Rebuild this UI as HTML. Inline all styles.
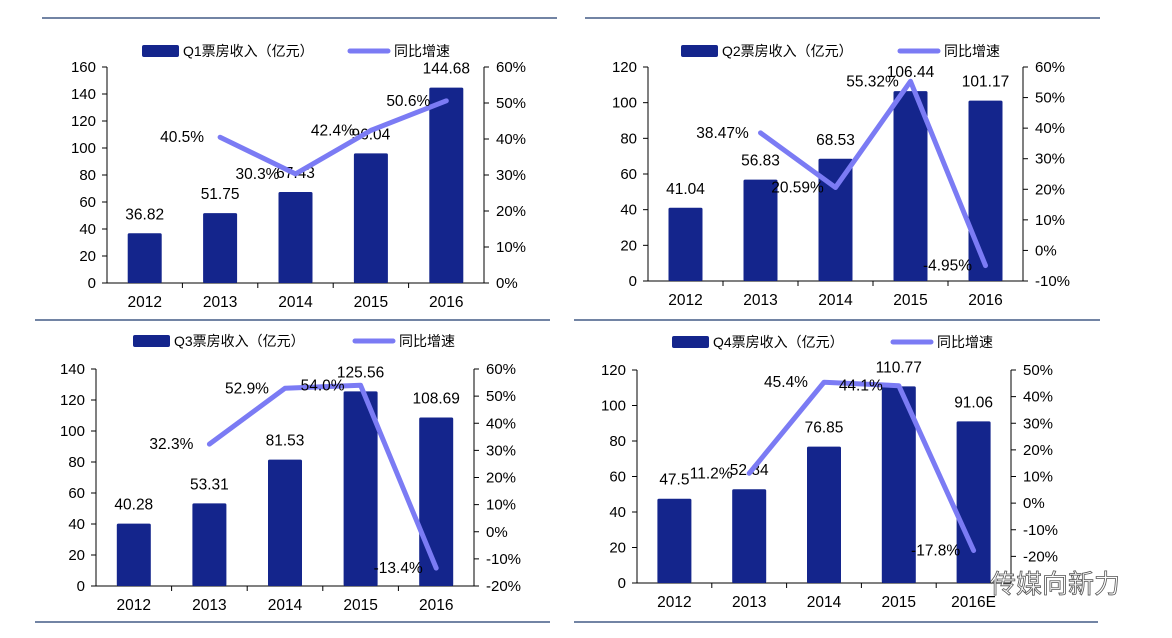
<!DOCTYPE html>
<html><head><meta charset="utf-8">
<style>
html,body{margin:0;padding:0;background:#fff;}
svg{display:block;font-family:"Liberation Sans","Noto Sans CJK SC",sans-serif;}
</style></head>
<body>
<svg id="c" width="1172" height="638" viewBox="0 0 1172 638"></svg>
<script>
const years = ["2012","2013","2014","2015","2016"];
const yearsQ4 = ["2012","2013","2014","2015","2016E"];
const q1Revenue = [36.82,51.75,67.43,96.04,144.68];
const q1Growth = [null,40.5,30.3,42.4,50.6];
const q1GrowthLabels = ["","40.5%","30.3%","42.4%","50.6%"];
const q2Revenue = [41.04,56.83,68.53,106.44,101.17];
const q2Growth = [null,38.47,20.59,55.32,-4.95];
const q2GrowthLabels = ["","38.47%","20.59%","55.32%","-4.95%"];
const q3Revenue = [40.28,53.31,81.53,125.56,108.69];
const q3Growth = [null,32.3,52.9,54.0,-13.4];
const q3GrowthLabels = ["","32.3%","52.9%","54.0%","-13.4%"];
const q4Revenue = [47.5,52.84,76.85,110.77,91.06];
const q4Growth = [null,11.2,45.4,44.1,-17.8];
const q4GrowthLabels = ["","11.2%","45.4%","44.1%","-17.8%"];
const q1LeftTicks=[0,20,40,60,80,100,120,140,160], q1RightTicks=[0,10,20,30,40,50,60];
const q2LeftTicks=[0,20,40,60,80,100,120], q2RightTicks=[-10,0,10,20,30,40,50,60];
const q3LeftTicks=[0,20,40,60,80,100,120,140], q3RightTicks=[-20,-10,0,10,20,30,40,50,60];
const q4LeftTicks=[0,20,40,60,80,100,120], q4RightTicks=[-20,-10,0,10,20,30,40,50];

const NS="http://www.w3.org/2000/svg";
const svg=document.getElementById('c');
function mk(tag,attrs,parent,text){const e=document.createElementNS(NS,tag);for(const k in attrs)e.setAttribute(k,attrs[k]);if(text!==undefined)e.textContent=text;(parent||svg).appendChild(e);return e;}

const panels=[
 {id:"q1",title:"Q1票房收入（亿元）",cats:years,rev:q1Revenue,gr:q1Growth,gl:q1GrowthLabels,lt:q1LeftTicks,rt:q1RightTicks,lmax:160,rmin:0,rmax:60,
  x0:107,x1:484,yb:283,yt:67,lineTop:{y:18,x1:42,x2:557},lineBot:null,leg:{y:51,bx:142,lx:350}},
 {id:"q2",title:"Q2票房收入（亿元）",cats:years,rev:q2Revenue,gr:q2Growth,gl:q2GrowthLabels,lt:q2LeftTicks,rt:q2RightTicks,lmax:120,rmin:-10,rmax:60,
  x0:648,x1:1023,yb:281,yt:67,lineTop:{y:18,x1:585,x2:1100},lineBot:null,leg:{y:51,bx:681,lx:900}},
 {id:"q3",title:"Q3票房收入（亿元）",cats:years,rev:q3Revenue,gr:q3Growth,gl:q3GrowthLabels,lt:q3LeftTicks,rt:q3RightTicks,lmax:140,rmin:-20,rmax:60,
  x0:96,x1:474,yb:586,yt:369,lineTop:{y:320,x1:35,x2:550},lineBot:{y:622,x1:35,x2:550},leg:{y:341,bx:133,lx:355}},
 {id:"q4",title:"Q4票房收入（亿元）",cats:yearsQ4,rev:q4Revenue,gr:q4Growth,gl:q4GrowthLabels,lt:q4LeftTicks,rt:q4RightTicks,lmax:120,rmin:-30,rmax:50,
  x0:637,x1:1011,yb:583,yt:370,lineTop:{y:320,x1:574,x2:1100},lineBot:{y:622,x1:574,x2:1098},leg:{y:342,bx:672,lx:893}}
];

panels.forEach(p=>{
  const g=mk('g',{},svg);
  
  
  const rule=mk('line',{x1:p.lineTop.x1,x2:p.lineTop.x2,y1:p.lineTop.y,y2:p.lineTop.y,stroke:'#1f3a6e','stroke-width':1.3},g);
  
  
  if(p.lineBot){const r2=mk('line',{x1:p.lineBot.x1,x2:p.lineBot.x2,y1:p.lineBot.y,y2:p.lineBot.y,stroke:'#1f3a6e','stroke-width':1.3},g);
    
    }
  const n=p.cats.length, step=(p.x1-p.x0)/n;
  const xc=i=>p.x0+step*(i+0.5);
  const yL=v=>p.yb-(v/p.lmax)*(p.yb-p.yt);
  const yR=v=>p.yb-((v-p.rmin)/(p.rmax-p.rmin))*(p.yb-p.yt);
  // axes
  mk('line',{x1:p.x0,x2:p.x0,y1:p.yt,y2:p.yb,stroke:'#000','stroke-width':1},g);
  mk('line',{x1:p.x1,x2:p.x1,y1:p.yt,y2:p.yb,stroke:'#000','stroke-width':1},g);
  mk('line',{x1:p.x0,x2:p.x1,y1:p.yb,y2:p.yb,stroke:'#000','stroke-width':1},g);
  p.lt.forEach(t=>{const y=yL(t);mk('line',{x1:p.x0-5,x2:p.x0,y1:y,y2:y,stroke:'#000'},g);
    const tx=mk('text',{x:p.x0-11,y:y+5,'text-anchor':'end','font-size':15,fill:'#000'},g,String(t));
    
    });
  p.rt.forEach(t=>{const y=yR(t);mk('line',{x1:p.x1,x2:p.x1+5,y1:y,y2:y,stroke:'#000'},g);
    const tx=mk('text',{x:p.x1+12,y:y+5,'font-size':15,fill:'#000'},g,t+'%');
    
    });
  for(let i=1;i<n;i++){mk('line',{x1:p.x0+step*i,x2:p.x0+step*i,y1:p.yb,y2:p.yb+5,stroke:'#000'},g);}
  // bars
  p.rev.forEach((v,i)=>{
    const b=mk('rect',{x:xc(i)-17,y:yL(v),width:34,height:p.yb-yL(v),fill:'#14258c',rx:1.5},g);
    
    
    const t=mk('text',{x:xc(i),y:yL(v)-14,'text-anchor':'middle','font-size':15.5,fill:'#000'},g,String(v));
    
    
    const c=mk('text',{x:xc(i),y:p.yb+24,'text-anchor':'middle','font-size':15.5,fill:'#000'},g,p.cats[i]);
    
    
  });
  // line
  const pts=[];p.gr.forEach((v,i)=>{if(v!==null)pts.push([xc(i),yR(v)]);});
  const pl=mk('polyline',{points:pts.map(q=>q.join(',')).join(' '),fill:'none',stroke:'#7b7bf4','stroke-width':5,'stroke-linejoin':'round','stroke-linecap':'round'},g);
  
  
  p.gr.forEach((v,i)=>{if(v===null)return;
    const t=mk('text',{x:xc(i)-38,y:yR(v)+5,'text-anchor':'middle','font-size':15.5,fill:'#000'},g,p.gl[i]);
    
    });
  // legend
  const lg=mk('g',{},g);
  
  
  mk('rect',{x:p.leg.bx,y:p.leg.y-6,width:37,height:12,fill:'#14258c',rx:2},lg);
  mk('text',{x:p.leg.bx+41,y:p.leg.y+5,'font-size':14,fill:'#000'},lg,p.title);
  mk('line',{x1:p.leg.lx,x2:p.leg.lx+38,y1:p.leg.y,y2:p.leg.y,stroke:'#7b7bf4','stroke-width':5,'stroke-linecap':'round'},lg);
  mk('text',{x:p.leg.lx+44,y:p.leg.y+5,'font-size':14,fill:'#000'},lg,'同比增速');
});
const wm=mk('text',{x:990,y:593,'font-size':26,fill:'#fff',stroke:'#555','stroke-width':0.8},svg,'传媒向新力');


</script>
</body></html>
